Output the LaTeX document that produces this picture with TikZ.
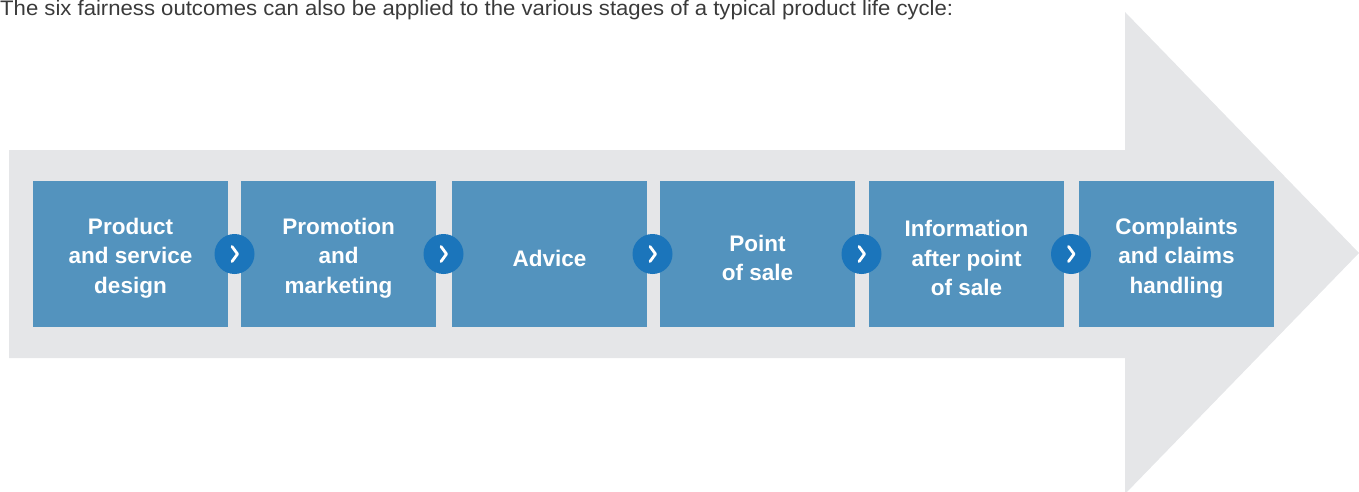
\documentclass[tikz,border=0pt]{standalone}
\usepackage{fontspec}
\setmainfont{Liberation Sans}
\definecolor{arrowgray}{HTML}{E5E6E8}
\definecolor{boxblue}{HTML}{5393BE}
\definecolor{circblue}{HTML}{1B75BB}
\definecolor{captgray}{HTML}{3A3A3A}
\tikzset{
  stagebox/.style={fill=boxblue, draw=none, minimum width=195pt, minimum height=146pt, inner sep=0pt},
  stagetext/.style={inner sep=0pt, text=white, align=center, font=\fontsize{22.5}{29.5}\selectfont\bfseries},
  nextcirc/.style={circle, fill=circblue, draw=none, minimum size=40pt, inner sep=0pt},
  chev/.style={white, line width=2.8pt, line cap=round, line join=round}
}
\begin{document}
\begin{tikzpicture}[x=1pt,y=-1pt]
\useasboundingbox (0,0) rectangle (1359,492);
\fill[arrowgray] (9,150) -- (1125,150) -- (1125,12) -- (1359,253) -- (1125,494) -- (1125,358) -- (9,358) -- cycle;
\node[anchor=base west, inner sep=0pt, text=captgray, font=\fontsize{21}{24}\selectfont] (cap) at (0,16)
  {\resizebox{953pt}{\height}{The six fairness outcomes can also be applied to the various stages of a typical product life cycle:}};
\foreach \i/\x/\t in {1/130.5/{Product\\and service\\design},
                      2/338.5/{Promotion\\and\\marketing},
                      3/549.5/{Advice},
                      4/757.5/{Point\\of sale},
                      5/966.5/{Information\\after point\\of sale},
                      6/1176.5/{Complaints\\and claims\\handling}} {
  \node[stagebox] (b\i) at (\x,254) {};
  \node[stagetext] (t\i) at ([yshift=-4pt]b\i.center) {\t};
}
\foreach \i/\x in {1/234.5,2/443.5,3/652.5,4/861.5,5/1071} {
  \node[nextcirc] (c\i) at (\x,254) {};
  \draw[chev] ([shift={(-2.5,-7.5)}]c\i.center) -- ([shift={(3,0)}]c\i.center) -- ([shift={(-2.5,7.5)}]c\i.center);
}
\end{tikzpicture}
\end{document}
